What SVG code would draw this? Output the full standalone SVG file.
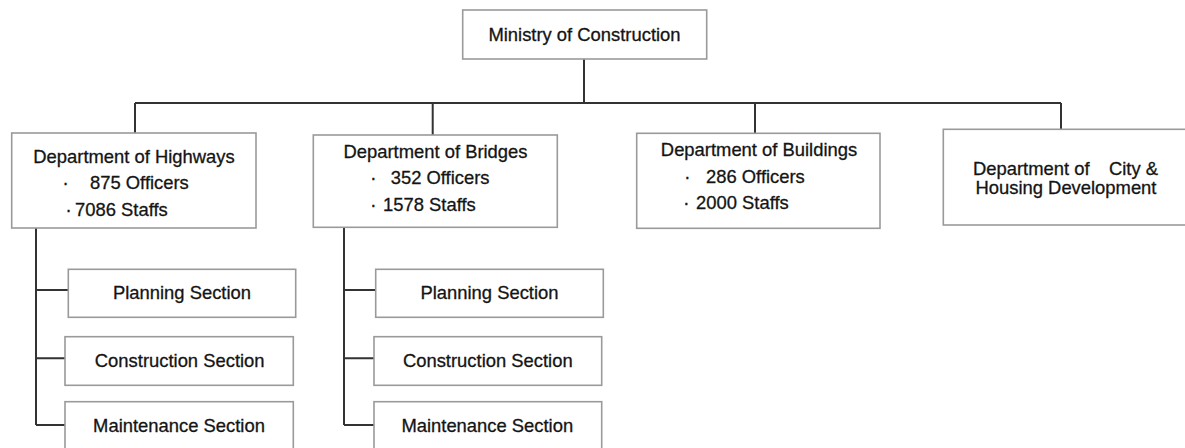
<svg xmlns="http://www.w3.org/2000/svg" width="1185" height="448" viewBox="0 0 1185 448">
<style>
.box{fill:#fff;stroke:#9a9a9a;stroke-width:1.6}
.t{font-family:"Liberation Sans",Arial,sans-serif;font-size:18.4px;fill:#141414;stroke:#141414;stroke-width:0.3}
.c{text-anchor:middle}
.ln{fill:none;stroke:#333;stroke-width:2}
</style>
<rect width="1185" height="448" fill="#fff"/>
<g id="connectors">
<path class="ln" d="M584 59V103M135 103H1061M135 103V133M432.7 103V135M755 103V133M1061 103V129"/>
<path class="ln" d="M36 228V425M36 290H68.3M36 358.3H65M36 425H65"/>
<path class="ln" d="M344 227V425M344 290H375.7M344 358.3H374M344 425H374"/>
</g>
<g id="ministry">
<rect class="box" x="462.7" y="10" width="244" height="49"/>
<text class="t c" x="584.5" y="40.7">Ministry of Construction</text>
</g>
<g id="highways">
<rect class="box" x="11.7" y="133" width="244.3" height="95"/>
<text class="t c" x="134" y="162.7">Department of Highways</text>
<text class="t" y="189.3"><tspan x="62.5">·</tspan><tspan x="90">875 Officers</tspan></text>
<text class="t" y="216"><tspan x="65.5">·</tspan><tspan x="75">7086 Staffs</tspan></text>
</g>
<g id="bridges">
<rect class="box" x="313.3" y="135" width="244" height="92.3"/>
<text class="t c" x="435.5" y="158.3">Department of Bridges</text>
<text class="t" y="184.3"><tspan x="370.2">·</tspan><tspan x="390.7">352 Officers</tspan></text>
<text class="t" y="210.7"><tspan x="370.2">·</tspan><tspan x="383">1578 Staffs</tspan></text>
</g>
<g id="buildings">
<rect class="box" x="636.7" y="133.3" width="243.3" height="95"/>
<text class="t c" x="759" y="156">Department of Buildings</text>
<text class="t" y="182.7"><tspan x="684.2">·</tspan><tspan x="706">286 Officers</tspan></text>
<text class="t" y="209.3"><tspan x="683.2">·</tspan><tspan x="696">2000 Staffs</tspan></text>
</g>
<g id="city">
<rect class="box" x="943.3" y="129.3" width="250" height="95.7"/>
<text class="t" y="175"><tspan x="973">Department of</tspan><tspan x="1109">City &amp;</tspan></text>
<text class="t c" x="1066" y="194.3">Housing Development</text>
</g>
<g id="hw-planning">
<rect class="box" x="68.3" y="269.3" width="227.4" height="48"/>
<text class="t c" x="182" y="299.3">Planning Section</text>
</g>
<g id="hw-construction">
<rect class="box" x="65" y="336.7" width="228.3" height="48.6"/>
<text class="t c" x="179.7" y="367.3">Construction Section</text>
</g>
<g id="hw-maintenance">
<rect class="box" x="65" y="401.7" width="228.3" height="50"/>
<text class="t c" x="179" y="432.3">Maintenance Section</text>
</g>
<g id="br-planning">
<rect class="box" x="375.7" y="269.3" width="227.6" height="48"/>
<text class="t c" x="489.5" y="299.3">Planning Section</text>
</g>
<g id="br-construction">
<rect class="box" x="374" y="336.7" width="227.7" height="48.6"/>
<text class="t c" x="487.8" y="367.3">Construction Section</text>
</g>
<g id="br-maintenance">
<rect class="box" x="374" y="401.7" width="227.7" height="50"/>
<text class="t c" x="487.3" y="432.3">Maintenance Section</text>
</g>
</svg>
